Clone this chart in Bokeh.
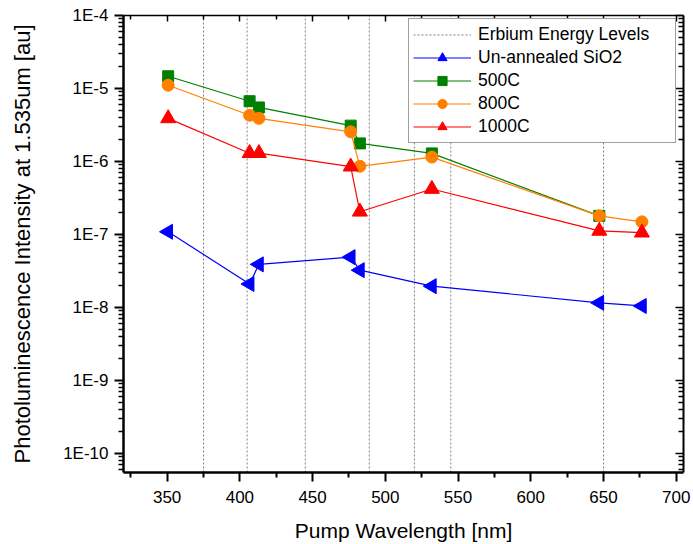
import math
from bokeh.plotting import figure
from bokeh.models import (Range1d, FixedTicker, LinearAxis, LogAxis, Legend,
                          LegendItem, CustomJSTickFormatter)
from bokeh.embed import file_html
from bokeh.resources import INLINE

# ---- data -----------------------------------------------------------------
wavelength = [350.7, 406.7, 413.1, 476.2, 482.5, 532.0, 647.1, 676.4]
unannealed = [1.09e-7, 2.1e-8, 3.9e-8, 4.9e-8, 3.25e-8, 1.96e-8, 1.16e-8, 1.05e-8]
wavelength_500 = [350.7, 406.7, 413.1, 476.2, 482.5, 532.0, 647.1]
anneal_500 = [1.47e-5, 6.7e-6, 5.5e-6, 3.1e-6, 1.77e-6, 1.29e-6, 1.8e-7]
anneal_800 = [1.11e-5, 4.3e-6, 3.9e-6, 2.55e-6, 8.6e-7, 1.15e-6, 1.8e-7, 1.49e-7]
anneal_1000 = [3.9e-6, 1.3e-6, 1.3e-6, 8.5e-7, 2.05e-7, 4.2e-7, 1.12e-7, 1.06e-7]
erbium_levels = [375, 405, 445, 489, 520, 545, 650]

x_major = [350, 400, 450, 500, 550, 600, 650, 700]
x_minor = [325, 375, 425, 475, 525, 575, 625, 675]
y_major = [1e-10, 1e-9, 1e-8, 1e-7, 1e-6, 1e-5, 1e-4]
y_minor = [m * 10.0 ** e for e in range(-11, -4) for m in range(2, 10)]

X_START, X_END = 320, 705
Y_START, Y_END = 10 ** -10.26, 1e-4

FONT = "Liberation Sans"

p = figure(width=693, height=544, y_axis_type="log",
           x_range=Range1d(X_START, X_END), y_range=Range1d(Y_START, Y_END),
           output_backend="svg", toolbar_location=None,
           min_border_left=123, min_border_right=10,
           min_border_top=15, min_border_bottom=72,
           background_fill_color="white", border_fill_color="white",
           outline_line_color=None)
p.xgrid.visible = False
p.ygrid.visible = False

# ---- axes -------------------------------------------------------------------
xb = p.xaxis[0]
xb.ticker = FixedTicker(ticks=x_major, minor_ticks=x_minor)
xb.major_tick_out = 9
xb.major_tick_in = 0
xb.minor_tick_out = 5
xb.minor_tick_in = 0
xb.axis_line_width = 2.5
xb.major_tick_line_width = 2
xb.minor_tick_line_width = 2
xb.major_label_standoff = 9
xb.major_label_text_font = FONT
xb.major_label_text_font_size = "17px"
xb.major_label_text_color = "black"
xb.axis_label = "Pump Wavelength [nm]"
xb.axis_label_text_font = FONT
xb.axis_label_text_font_size = "21px"
xb.axis_label_text_font_style = "normal"
xb.axis_label_text_color = "black"
xb.axis_label_standoff = 13

yl = p.yaxis[0]
yl.ticker = FixedTicker(ticks=y_major, minor_ticks=y_minor)
yl.formatter = CustomJSTickFormatter(code="return '1E' + Math.round(Math.log10(tick));")
yl.major_tick_out = 9
yl.major_tick_in = 0
yl.minor_tick_out = 5
yl.minor_tick_in = 0
yl.axis_line_width = 2.5
yl.major_tick_line_width = 2
yl.minor_tick_line_width = 1.5
yl.major_label_standoff = 6
yl.major_label_text_font = FONT
yl.major_label_text_font_size = "17px"
yl.major_label_text_color = "black"
yl.axis_label = "Photoluminescence Intensity at 1.535um [au]"
yl.axis_label_text_font = FONT
yl.axis_label_text_font_size = "22px"
yl.axis_label_text_font_style = "normal"
yl.axis_label_text_color = "black"
yl.axis_label_standoff = 25

top = LinearAxis(ticker=FixedTicker(ticks=x_major, minor_ticks=x_minor),
                 formatter=CustomJSTickFormatter(code="return '';"),
                 major_tick_in=6, major_tick_out=0, minor_tick_in=4, minor_tick_out=0,
                 axis_line_width=1.5, major_tick_line_width=1.5, minor_tick_line_width=1.5,
                 major_label_standoff=0)
p.add_layout(top, "above")

right = LogAxis(ticker=FixedTicker(ticks=y_major, minor_ticks=y_minor),
                formatter=CustomJSTickFormatter(code="return '';"),
                major_tick_in=8, major_tick_out=0, minor_tick_in=5, minor_tick_out=0,
                axis_line_width=2, major_tick_line_width=1.5, minor_tick_line_width=1.5,
                major_label_standoff=0)
p.add_layout(right, "right")

# ---- erbium energy levels (vertical dotted lines) -------------------------
er = p.segment(x0=erbium_levels, x1=erbium_levels,
               y0=[Y_START] * len(erbium_levels), y1=[Y_END] * len(erbium_levels),
               line_color="#808080", line_width=1, line_dash="2 2")

# ---- series ---------------------------------------------------------------
def series(xs, ys, color, marker, size, angle=0.0):
    ln = p.line(xs, ys, line_color=color, line_width=1.2)
    sc = p.scatter(xs, ys, marker=marker, size=size, angle=angle,
                   fill_color=color, line_color=color)
    return [ln, sc]

r_un = series(wavelength, unannealed, "#0000FF", "triangle", 15, math.pi / 2)
r_500 = series(wavelength_500, anneal_500, "#008000", "square", 11)
r_800 = series(wavelength, anneal_800, "#FF8000", "circle", 12)
r_1000 = series(wavelength, anneal_1000, "#FF0000", "triangle", 15)

legend = Legend(items=[
    LegendItem(label="Erbium Energy Levels", renderers=[er]),
    LegendItem(label="Un-annealed SiO2", renderers=r_un),
    LegendItem(label="500C", renderers=r_500),
    LegendItem(label="800C", renderers=r_800),
    LegendItem(label="1000C", renderers=r_1000),
], location=(285, 329))
legend.label_text_font = FONT
legend.label_text_font_size = "17.5px"
legend.label_text_color = "black"
legend.glyph_width = 58
legend.glyph_height = 23
legend.label_height = 20
legend.label_standoff = 7
legend.label_width = 193
legend.spacing = 0
legend.padding = 4
legend.margin = 0
legend.border_line_color = "#404040"
legend.border_line_width = 1.5
legend.background_fill_color = "white"
legend.background_fill_alpha = 1.0
p.add_layout(legend, "center")

open("out.html", "w").write(file_html(p, INLINE))
